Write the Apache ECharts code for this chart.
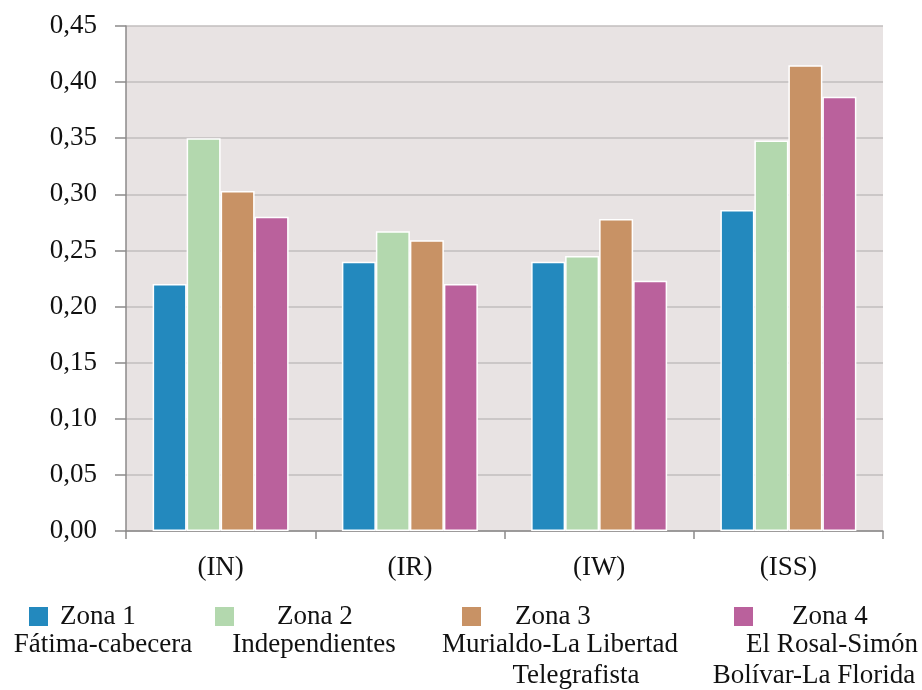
<!DOCTYPE html>
<html>
<head>
<meta charset="utf-8">
<script src="https://cdn.jsdelivr.net/npm/echarts@6/dist/echarts.min.js"></script>
<style>
  html, body { margin: 0; padding: 0; background: #ffffff; }
  #chart { width: 922px; height: 690px; }
</style>
</head>
<body>
<div id="chart"></div>
<script>
// Indices per zone
const categories = ['(IN)', '(IR)', '(IW)', '(ISS)'];
const zone1 = [0.220, 0.240, 0.240, 0.286];
const zone2 = [0.350, 0.267, 0.245, 0.348];
const zone3 = [0.303, 0.259, 0.278, 0.415];
const zone4 = [0.280, 0.220, 0.223, 0.387];
const zoneLabels = ['Zona 1', 'Zona 2', 'Zona 3', 'Zona 4'];
const zoneNames = [
  ['Fátima-cabecera'],
  ['Independientes'],
  ['Murialdo-La Libertad', 'Telegrafista'],
  ['El Rosal-Simón', 'Bolívar-La Florida']
];
const yTicks = { min: 0, max: 0.45, step: 0.05 };

const colors = ['#2389be', '#b3d8ae', '#c89265', '#ba619c'];
const font = 'Liberation Serif, Times New Roman, serif';
const fontSize = 27;
const textColor = '#111111';

const seriesValues = [zone1, zone2, zone3, zone4];

// legend swatch placement and swatch-to-label spacing per zone
const legendLayout = [
  { left: 27, gap: 11 },
  { left: 213, gap: 42 },
  { left: 460, gap: 33 },
  { left: 732, gap: 38 }
];
// centres of the wrapped zone-name lines under each legend entry
const nameLayout = [
  [[103, 645]],
  [[314, 645]],
  [[560, 645], [576, 676]],
  [[832, 645], [814, 676]]
];

const chart = echarts.init(document.getElementById('chart'), null, { renderer: 'canvas' });

const graphics = [];
zoneNames.forEach((lines, i) => {
  lines.forEach((line, j) => {
    graphics.push({
      type: 'text',
      x: nameLayout[i][j][0],
      y: nameLayout[i][j][1],
      style: {
        text: line,
        font: fontSize + 'px ' + font,
        fill: textColor,
        textAlign: 'center',
        textVerticalAlign: 'middle'
      }
    });
  });
});

chart.setOption({
  animation: false,
  color: colors,
  grid: {
    left: 126, right: 39, top: 26, bottom: 159,
    show: true, backgroundColor: '#e8e3e3', borderWidth: 0
  },
  legend: zoneLabels.map((name, i) => ({
    data: [name],
    left: legendLayout[i].left,
    top: 603,
    padding: 0,
    icon: 'rect',
    itemWidth: 21,
    itemHeight: 21,
    selectedMode: false,
    textStyle: {
      fontFamily: font, fontSize: fontSize, color: textColor,
      padding: [0, 0, 0, legendLayout[i].gap - 5]
    }
  })),
  xAxis: {
    type: 'category',
    data: categories,
    axisLine: { lineStyle: { color: '#8c8a8a', width: 1.5 } },
    axisTick: { show: true, length: 8, lineStyle: { color: '#8c8a8a', width: 1.5 } },
    axisLabel: { fontFamily: font, fontSize: fontSize, color: textColor, margin: 23 }
  },
  yAxis: {
    type: 'value',
    min: yTicks.min, max: yTicks.max, interval: yTicks.step,
    axisLine: { show: true, lineStyle: { color: '#8c8a8a', width: 1.5 } },
    axisTick: { show: true, length: 11, lineStyle: { color: '#8c8a8a', width: 1.5 } },
    splitLine: { lineStyle: { color: '#c2bebe', width: 1.5 } },
    axisLabel: {
      fontFamily: font, fontSize: fontSize, color: textColor, margin: 29,
      formatter: v => v.toFixed(2).replace('.', ',')
    }
  },
  series: seriesValues.map((vals, i) => ({
    name: zoneLabels[i],
    type: 'bar',
    data: vals,
    barWidth: 34,
    barGap: '0%',
    itemStyle: { color: colors[i], borderColor: '#ffffff', borderWidth: 1.5 }
  })),
  graphic: graphics
});
</script>
</body>
</html>
